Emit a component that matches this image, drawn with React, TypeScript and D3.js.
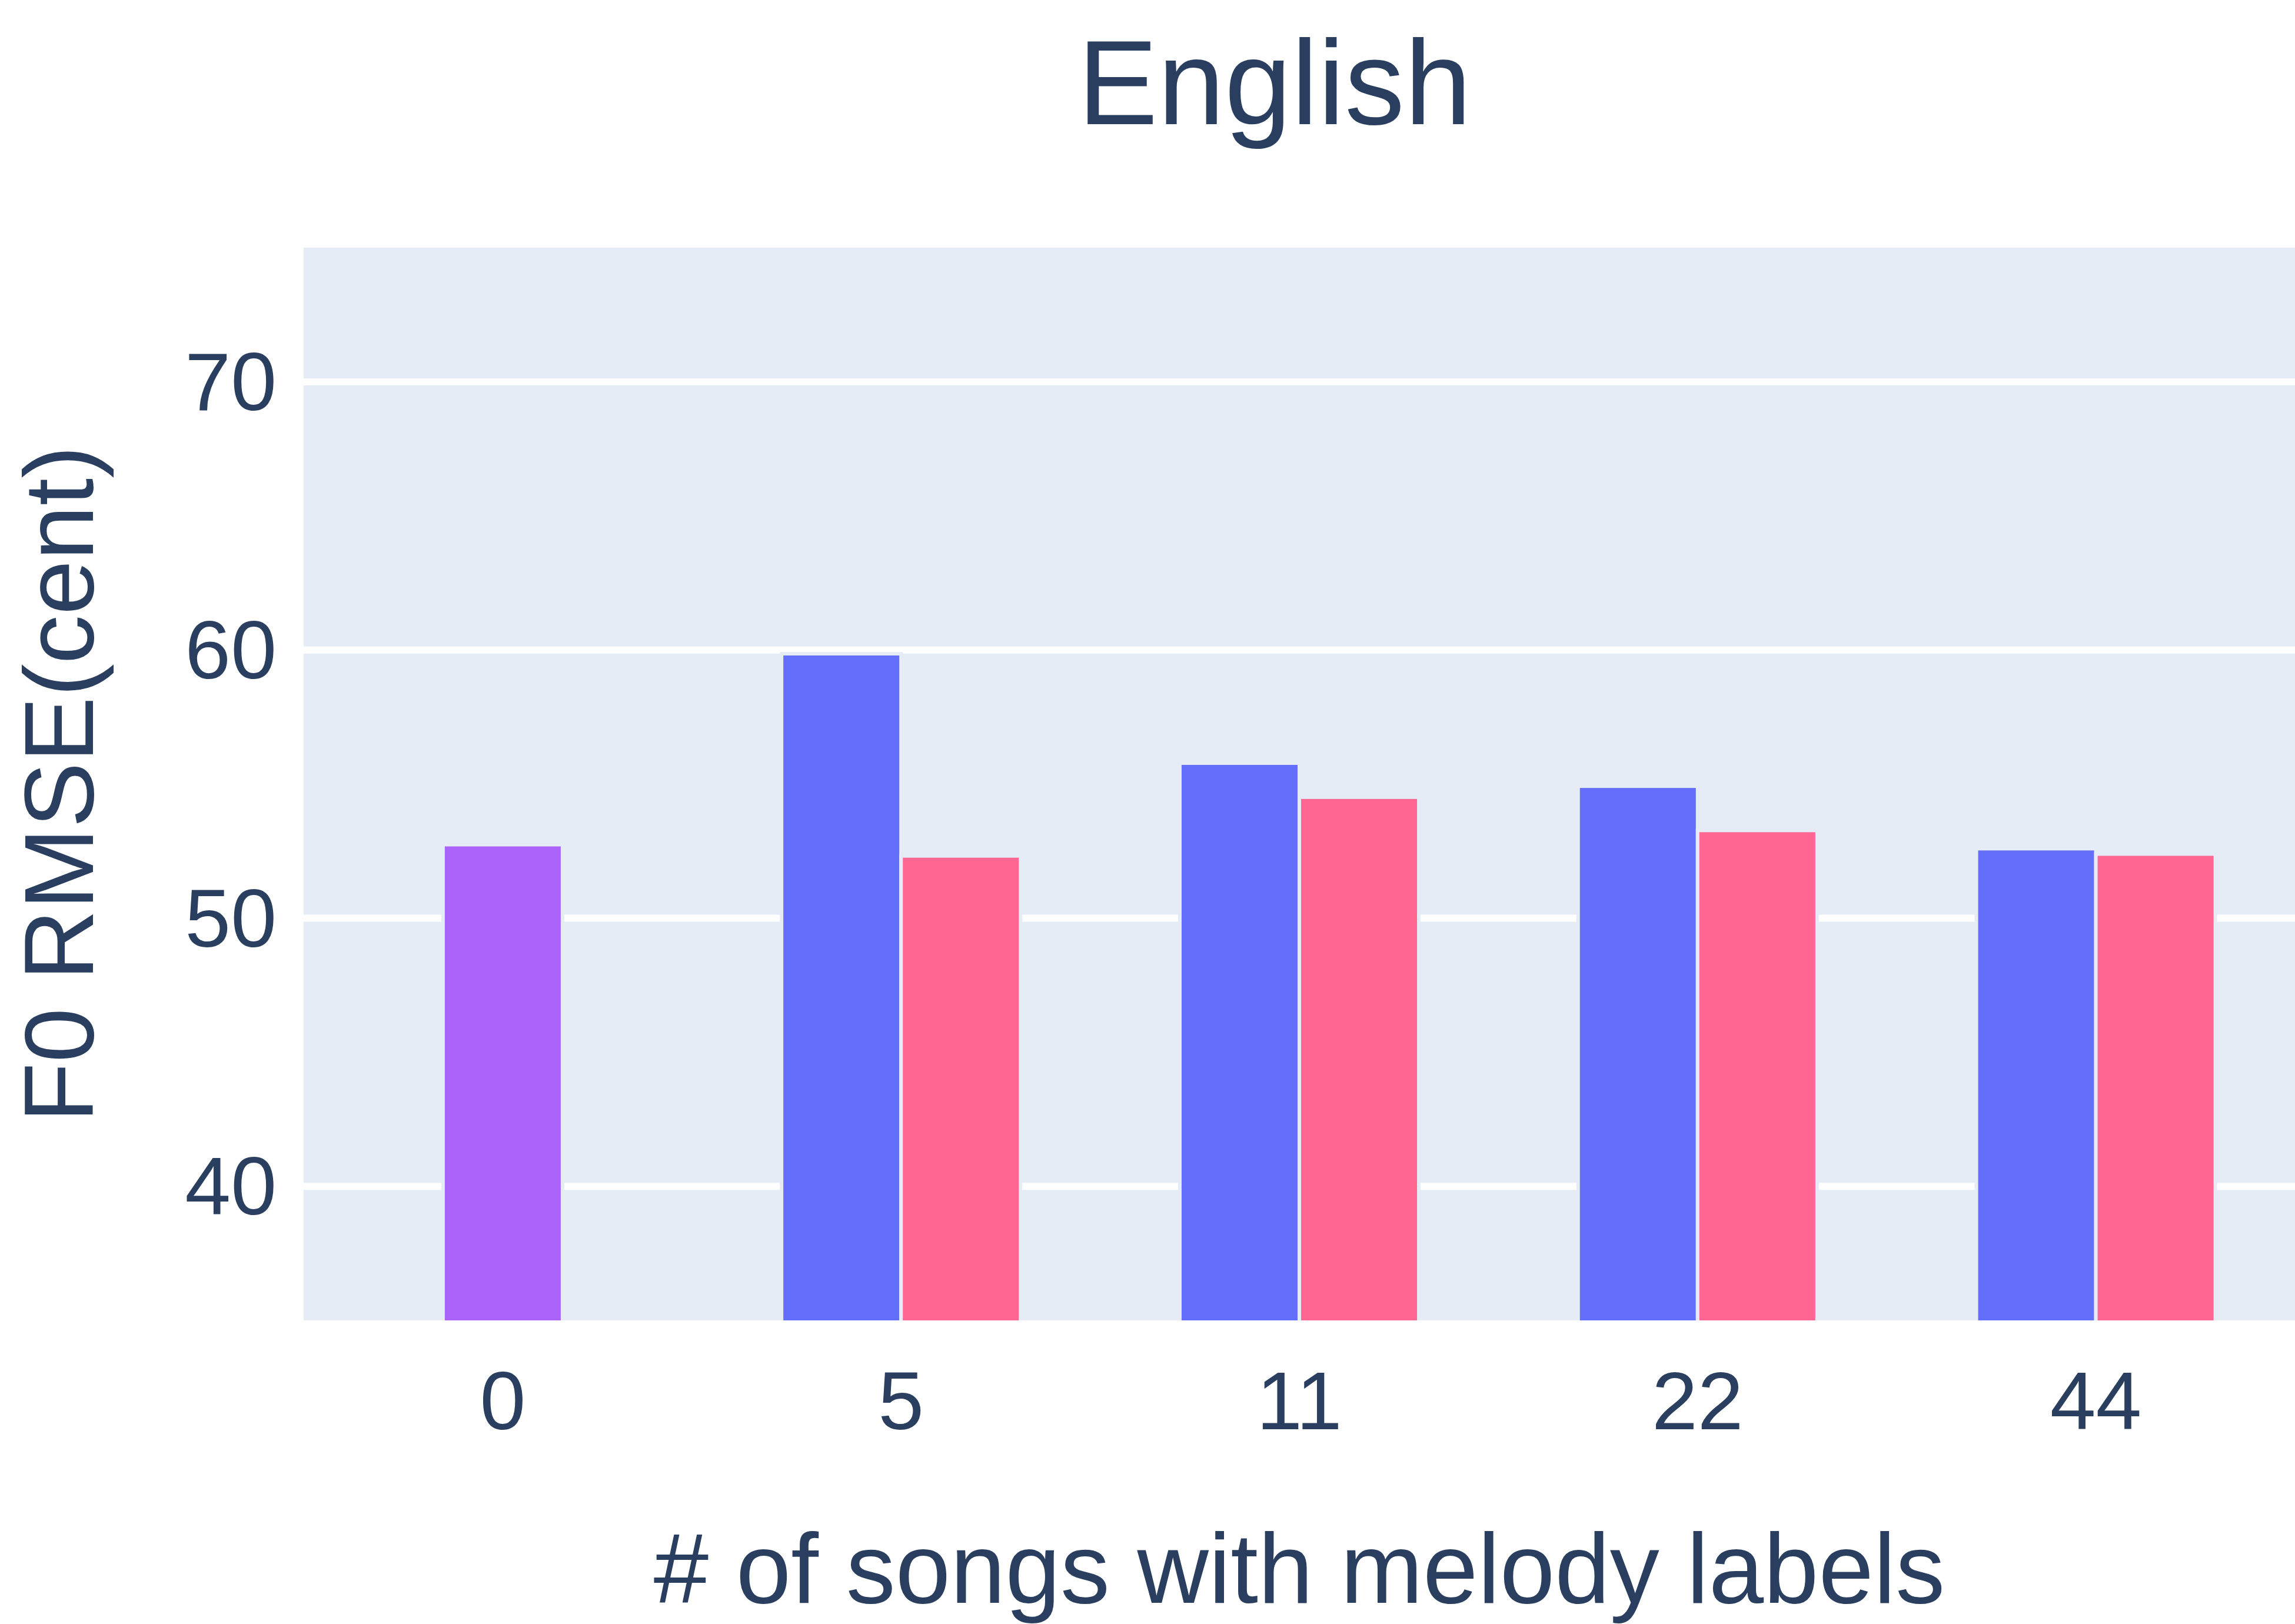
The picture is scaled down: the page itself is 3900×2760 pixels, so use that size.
import React, { useRef, useEffect } from 'react';
import * as d3 from 'd3';

// # of songs with melody labels
const categories = ['0', '5', '11', '22', '44'];
// baseline (no melody labels) only exists at 0
const baselineValues = [52.74, null, null, null, null];
const seriesA = [null, 59.86, 55.78, 54.92, 52.59];
const seriesB = [null, 52.32, 54.51, 53.27, 52.39];
const yTicks = [40, 50, 60, 70];

const App = () => {
    const svgRef = useRef<SVGSVGElement>(null);

    useEffect(() => {
        const W = 3900;
        const H = 2760;
        const plot = { left: 516, right: 3900, top: 421, bottom: 2244 };
        const textColor = '#2a3f5f';
        const font = '"Liberation Sans", Arial, sans-serif';

        const svg = d3.select(svgRef.current)
            .attr('width', W)
            .attr('height', H);
        svg.selectAll('*').remove();

        svg.append('rect').attr('width', W).attr('height', H).attr('fill', '#fff');

        const x = d3.scaleBand()
            .domain(categories)
            .range([plot.left, plot.right])
            .padding(0);

        const y = d3.scaleLinear()
            .domain([35, 75])
            .range([plot.bottom, plot.top]);

        // two bars per group, touching in the middle
        const groupWidth = x.bandwidth() * 0.6;
        const xSub = d3.scaleBand()
            .domain(['A', 'B'])
            .range([-groupWidth / 2, groupWidth / 2])
            .padding(0);

        svg.append('defs').append('clipPath').attr('id', 'plot-clip')
            .append('rect')
            .attr('x', plot.left).attr('y', plot.top)
            .attr('width', plot.right - plot.left)
            .attr('height', plot.bottom - plot.top);

        svg.append('rect')
            .attr('x', plot.left).attr('y', plot.top)
            .attr('width', plot.right - plot.left)
            .attr('height', plot.bottom - plot.top)
            .attr('fill', '#E5ECF6');

        svg.append('g')
            .selectAll('line')
            .data(yTicks)
            .enter()
            .append('line')
            .attr('x1', plot.left).attr('x2', plot.right)
            .attr('y1', d => y(d)).attr('y2', d => y(d))
            .attr('stroke', '#fff')
            .attr('stroke-width', 12);

        const bars = svg.append('g').attr('clip-path', 'url(#plot-clip)');
        const drawSeries = (values: (number | null)[], color: string, offset: (c: string) => number) => {
            bars.append('g')
                .selectAll('rect')
                .data(categories.map((c, i) => ({ c, v: values[i] })).filter(d => d.v != null))
                .enter()
                .append('rect')
                .attr('x', d => offset(d.c))
                .attr('y', d => y(d.v as number))
                .attr('width', xSub.bandwidth())
                .attr('height', d => y(35) - y(d.v as number) + 10)
                .attr('fill', color)
                .attr('stroke', '#E5ECF6')
                .attr('stroke-width', 6);
        };
        const center = (c: string) => (x(c) as number) + x.bandwidth() / 2;
        drawSeries(baselineValues, '#AB63FA', c => center(c) - xSub.bandwidth() / 2);
        drawSeries(seriesA, '#636EFA', c => center(c) + (xSub('A') as number));
        drawSeries(seriesB, '#FF6692', c => center(c) + (xSub('B') as number));

        // y tick labels
        svg.append('g')
            .selectAll('text')
            .data(yTicks)
            .enter()
            .append('text')
            .attr('x', 470)
            .attr('y', d => y(d))
            .attr('dy', '0.345em')
            .attr('text-anchor', 'end')
            .attr('font-family', font)
            .attr('font-size', 140)
            .attr('fill', textColor)
            .text(d => d);

        // x tick labels
        svg.append('g')
            .selectAll('text')
            .data(categories)
            .enter()
            .append('text')
            .attr('x', d => center(d))
            .attr('y', 2429)
            .attr('text-anchor', 'middle')
            .attr('font-family', font)
            .attr('font-size', 140)
            .attr('fill', textColor)
            .text(d => d);

        svg.append('text')
            .attr('x', 2166)
            .attr('y', 211)
            .attr('text-anchor', 'middle')
            .attr('font-family', font)
            .attr('font-size', 204)
            .attr('fill', textColor)
            .text('English');

        svg.append('text')
            .attr('x', (plot.left + plot.right) / 2)
            .attr('y', 2724)
            .attr('text-anchor', 'middle')
            .attr('font-family', font)
            .attr('font-size', 168)
            .attr('fill', textColor)
            .text('# of songs with melody labels');

        svg.append('text')
            .attr('transform', `translate(158, ${(plot.top + plot.bottom) / 2}) rotate(-90)`)
            .attr('text-anchor', 'middle')
            .attr('font-family', font)
            .attr('font-size', 167)
            .attr('fill', textColor)
            .text('F0 RMSE(cent)');
    }, []);

    return <svg ref={svgRef} style={{ position: 'absolute', left: 0, top: 0, display: 'block' }}></svg>;
};

export default App;
